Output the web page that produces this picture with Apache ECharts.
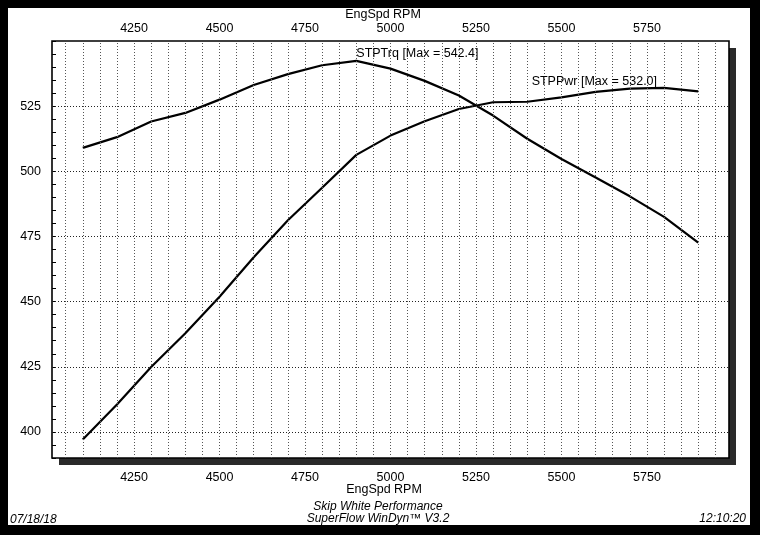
<!DOCTYPE html>
<html>
<head>
<meta charset="utf-8">
<script src="https://cdn.jsdelivr.net/npm/echarts@6/dist/echarts.min.js"></script>
<style>
  html, body { margin: 0; padding: 0; background: #000; }
  #paper { position: absolute; left: 8px; top: 8px; width: 742px; height: 517px; background: #fff; }
  #shadow { position: absolute; left: 59px; top: 48px; width: 677px; height: 417px; background: #2a2a2a; }
  #chart { position: absolute; left: 0; top: 0; width: 760px; height: 535px; }
</style>
</head>
<body>
<div id="paper"></div>
<div id="shadow"></div>
<div id="chart"></div>
<script>
// RPM sample points
const rpm = [4100, 4200, 4300, 4400, 4500, 4600, 4700, 4800, 4900, 5000,
             5100, 5200, 5300, 5400, 5500, 5600, 5700, 5800, 5900];
// STPTrq values
const torque = [509.0, 513.1, 519.1, 522.4, 527.5, 533.1, 537.3, 540.7, 542.4, 539.4,
                534.7, 529.1, 521.4, 512.5, 504.7, 497.6, 490.4, 482.5, 472.6];
// STPPwr values
const power = [397.1, 410.5, 424.9, 437.9, 451.9, 467.0, 481.2, 493.7, 506.3, 513.7,
               519.2, 523.9, 526.5, 526.7, 528.4, 530.5, 531.7, 532.0, 530.7];
// tick labels
const xTickLabels = [4250, 4500, 4750, 5000, 5250, 5500, 5750];
const yTickLabels = [400, 425, 450, 475, 500, 525];
// vertical grid positions
const xGridLines = [4050, 4100, 4150, 4200, 4250, 4300, 4350, 4400, 4450, 4500,
                    4550, 4600, 4650, 4700, 4750, 4800, 4850, 4900, 4950, 5000,
                    5050, 5100, 5150, 5200, 5250, 5300, 5350, 5400, 5450, 5500,
                    5550, 5600, 5650, 5700, 5750, 5800, 5850, 5900, 5950];

const FONT = '"Liberation Sans", Arial, sans-serif';
const chart = echarts.init(document.getElementById('chart'), null, { renderer: 'canvas' });

const xLabelFmt = v => (xTickLabels.indexOf(Math.round(v)) >= 0 ? String(Math.round(v)) : '');
const yLabelFmt = v => (yTickLabels.indexOf(Math.round(v)) >= 0 ? String(Math.round(v)) : '');

const option = {
  backgroundColor: 'transparent',
  animation: false,
  grid: {
    left: 52, top: 41, right: 31, bottom: 77,
    show: true,
    backgroundColor: '#fff',
    borderColor: '#000',
    borderWidth: 1.6
  },
  xAxis: [
    {
      type: 'value', position: 'bottom', min: 4010, max: 5990, interval: 10,
      axisLine: { show: false }, axisTick: { show: false }, splitLine: { show: false },
      axisLabel: { formatter: xLabelFmt, color: '#000', fontFamily: FONT, fontSize: 12.5, margin: 13 }
    },
    {
      type: 'value', position: 'top', min: 4010, max: 5990, interval: 10,
      axisLine: { show: false }, axisTick: { show: false }, splitLine: { show: false },
      axisLabel: { formatter: xLabelFmt, color: '#000', fontFamily: FONT, fontSize: 12.5, margin: 6 }
    }
  ],
  yAxis: {
    type: 'value', min: 390, max: 550, interval: 5,
    axisLine: { show: false },
    axisTick: { show: true, inside: true, length: 4, lineStyle: { color: '#000', width: 1 } },
    splitLine: { show: false },
    axisLabel: { formatter: yLabelFmt, color: '#000', fontFamily: FONT, fontSize: 12.5, margin: 11 }
  },
  graphic: [
    { type: 'text', style: { text: 'EngSpd RPM', x: 383, y: 15, align: 'center', verticalAlign: 'middle', fill: '#000', font: '12.5px ' + FONT } },
    { type: 'text', style: { text: 'EngSpd RPM', x: 384, y: 490, align: 'center', verticalAlign: 'middle', fill: '#000', font: '12.5px ' + FONT } },
    { type: 'text', style: { text: 'Skip White Performance', x: 378, y: 507, align: 'center', verticalAlign: 'middle', fill: '#000', font: 'italic 12px ' + FONT } },
    { type: 'text', style: { text: 'SuperFlow WinDyn\u2122 V3.2', x: 378, y: 519, align: 'center', verticalAlign: 'middle', fill: '#000', font: 'italic 12px ' + FONT } },
    { type: 'text', style: { text: '07/18/18', x: 10, y: 520, align: 'left', verticalAlign: 'middle', fill: '#000', font: 'italic 12px ' + FONT } },
    { type: 'text', style: { text: '12:10:20', x: 746, y: 519, align: 'right', verticalAlign: 'middle', fill: '#000', font: 'italic 12px ' + FONT } }
  ],
  series: [
    {
      name: 'grid', type: 'line', data: [], z: 1, silent: true,
      markLine: {
        silent: true, symbol: ['none', 'none'], label: { show: false }, animation: false,
        data: xGridLines.map(v => ({ xAxis: v, lineStyle: { color: '#555', width: 1, type: [1, 2] } }))
          .concat(yTickLabels.map(v => ({ yAxis: v, lineStyle: { color: '#222', width: 1, type: [1, 2] } })))
      }
    },
    {
      name: 'STPTrq', type: 'line', z: 3,
      data: rpm.map((r, i) => [r, torque[i]]),
      showSymbol: false, symbol: 'none',
      lineStyle: { color: '#000', width: 2.2 },
      markPoint: {
        symbol: 'circle', symbolSize: 1, itemStyle: { color: 'rgba(0,0,0,0)' },
        data: [{ type: 'max' }],
        label: {
          show: true, position: 'inside', align: 'left', verticalAlign: 'middle', offset: [0, -7.5],
          color: '#000', fontFamily: FONT, fontSize: 12.5,
          formatter: p => 'STPTrq [Max = ' + Number(p.value).toFixed(1) + ']'
        }
      }
    },
    {
      name: 'STPPwr', type: 'line', z: 3,
      data: rpm.map((r, i) => [r, power[i]]),
      showSymbol: false, symbol: 'none',
      lineStyle: { color: '#000', width: 2.2 },
      markPoint: {
        symbol: 'circle', symbolSize: 1, itemStyle: { color: 'rgba(0,0,0,0)' },
        data: [{ type: 'max' }],
        label: {
          show: true, position: 'inside', align: 'right', verticalAlign: 'middle', offset: [-7, -6.3],
          color: '#000', fontFamily: FONT, fontSize: 12.5,
          formatter: p => 'STPPwr [Max = ' + Number(p.value).toFixed(1) + ']'
        }
      }
    }
  ]
};
chart.setOption(option);
</script>
</body>
</html>
